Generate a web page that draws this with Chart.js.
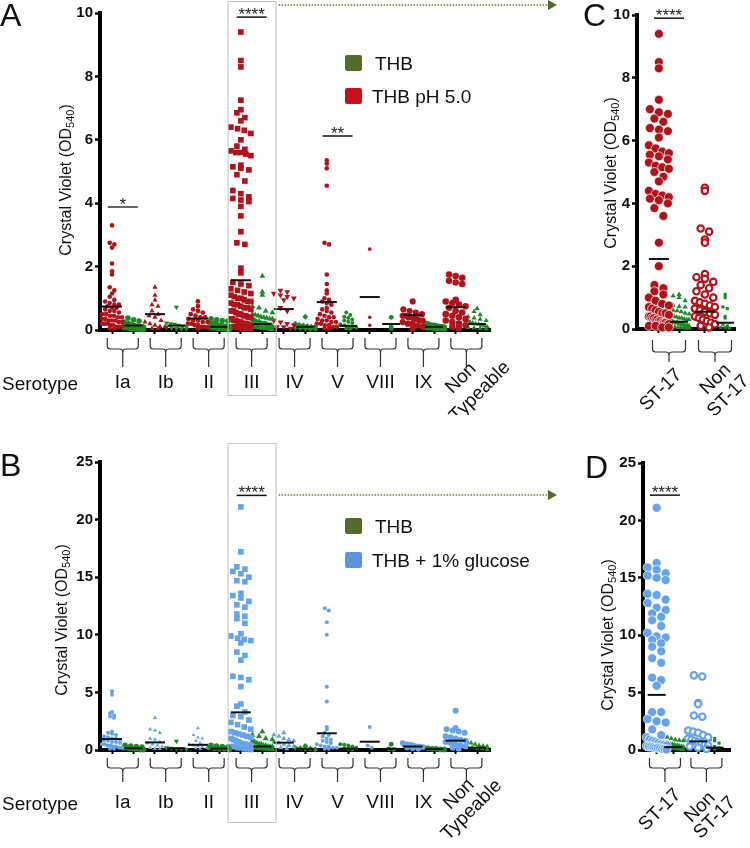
<!DOCTYPE html>
<html>
<head>
<meta charset="utf-8">
<script src="https://cdn.jsdelivr.net/npm/chart.js@4.4.0/dist/chart.umd.min.js"></script>
<style>
body { margin: 0; background: #fff; }
#fig { position: relative; width: 750px; height: 848px; overflow: hidden; font-family: 'Liberation Sans', Arial, sans-serif; color: #111; }
canvas { position: absolute; }
.t { position: absolute; line-height: 1; white-space: nowrap; transform: translateY(-50%); font-size: 19px; }
.ytitle { position: absolute; font-size: 16px; line-height: 1; white-space: nowrap; transform: translate(-50%, -50%) rotate(-90deg); }
.ytitle sub { font-size: 11px; vertical-align: -3px; }
.sw { position: absolute; width: 17px; height: 16px; border-radius: 2px; }
.letter { position: absolute; font-size: 32px; line-height: 1; }
</style>
</head>
<body>
<div id="fig">
  <canvas id="cA" width="560" height="415" style="left:0;top:0"></canvas>
  <canvas id="cC" width="190" height="415" style="left:560px;top:0"></canvas>
  <canvas id="cB" width="560" height="428" style="left:0;top:420px"></canvas>
  <canvas id="cD" width="190" height="428" style="left:560px;top:420px"></canvas>

  <div class="letter" style="left:0;top:-1px">A</div>
  <div class="letter" style="left:583px;top:-1px">C</div>
  <div class="letter" style="left:0;top:449px">B</div>
  <div class="letter" style="left:585px;top:451px">D</div>

  <div class="ytitle" style="left:67px;top:180px">Crystal Violet (OD<sub>540</sub>)</div>
  <div class="ytitle" style="left:612px;top:173px">Crystal Violet (OD<sub>540</sub>)</div>
  <div class="ytitle" style="left:63px;top:620px">Crystal Violet (OD<sub>540</sub>)</div>
  <div class="ytitle" style="left:609px;top:635px">Crystal Violet (OD<sub>540</sub>)</div>

  <div class="t" style="left:2px;top:383px">Serotype</div>
  <div class="t" style="left:2px;top:803px">Serotype</div>

  <div class="sw" style="left:345px;top:55px;background:#546b2c"></div>
  <div class="t" style="left:375px;top:63px">THB</div>
  <div class="sw" style="left:345px;top:88px;background:#c41016"></div>
  <div class="t" style="left:372px;top:96px">THB pH 5.0</div>

  <div class="sw" style="left:345px;top:518px;background:#546b2c"></div>
  <div class="t" style="left:375px;top:526px">THB</div>
  <div class="sw" style="left:345px;top:552px;background:#5a96e0"></div>
  <div class="t" style="left:372px;top:560px">THB + 1% glucose</div>
</div>
<script>
// ---- categories ----
const serotypes = ['Ia', 'Ib', 'II', 'III', 'IV', 'V', 'VIII', 'IX', 'Non Typeable'];
const stGroups = ['ST-17', 'Non ST-17'];

// ---- A: THB pH 5.0 vs THB, by serotype ----
const phA = [
  [3.3, 2.75, 2.7, 2.6, 2.1, 1.85, 1.75, 1.35, 1.25, 1.15, 1.05, 0.95, 0.9, 0.85, 0.8, 0.8, 0.75, 0.7, 0.7, 0.65, 0.6, 0.6, 0.55, 0.5, 0.5, 0.45, 0.45, 0.4, 0.4, 0.35, 0.35, 0.3, 0.3, 0.3, 0.25, 0.25, 0.2, 0.2, 0.2, 0.15, 0.15, 0.1, 0.1, 0.1, 0.05, 0.05],
  [1.35, 1.1, 0.95, 0.8, 0.75, 0.6, 0.5, 0.45, 0.4, 0.3, 0.25, 0.2, 0.15, 0.1, 0.1, 0.05, 0.05],
  [0.9, 0.75, 0.65, 0.6, 0.55, 0.5, 0.45, 0.4, 0.4, 0.35, 0.3, 0.3, 0.25, 0.25, 0.2, 0.2, 0.15, 0.15, 0.1, 0.1, 0.08, 0.05],
  [9.4, 8.5, 8.3, 7.25, 6.95, 6.85, 6.7, 6.6, 6.4, 6.35, 6.3, 6.2, 6.0, 5.8, 5.7, 5.65, 5.6, 5.6, 5.55, 5.5, 5.2, 5.15, 5.1, 5.05, 4.9, 4.7, 4.4, 4.3, 4.2, 4.15, 4.1, 4.05, 3.9, 3.6, 3.1, 2.75, 2.7, 1.95, 1.8, 1.5, 1.45, 1.4, 1.3, 1.25, 1.2, 1.15, 1.1, 1.05, 1.0, 1.0, 0.95, 0.9, 0.9, 0.85, 0.8, 0.8, 0.75, 0.7, 0.7, 0.65, 0.6, 0.6, 0.55, 0.5, 0.5, 0.45, 0.45, 0.4, 0.4, 0.35, 0.35, 0.3, 0.3, 0.3, 0.25, 0.25, 0.25, 0.2, 0.2, 0.2, 0.2, 0.15, 0.15, 0.15, 0.1, 0.1, 0.1, 0.1, 0.05, 0.05, 0.05, 0.05],
  [1.25, 1.2, 1.15, 1.1, 1.05, 1.0, 0.95, 0.7, 0.6, 0.3, 0.25, 0.2, 0.15, 0.1, 0.1, 0.05],
  [5.35, 5.25, 5.1, 4.55, 2.75, 2.7, 1.75, 1.45, 1.25, 1.15, 1.0, 0.95, 0.9, 0.85, 0.8, 0.7, 0.65, 0.6, 0.55, 0.5, 0.45, 0.4, 0.4, 0.35, 0.3, 0.3, 0.25, 0.25, 0.2, 0.2, 0.15, 0.15, 0.1, 0.1, 0.05, 0.05],
  [2.55, 0.4, 0.15],
  [0.9, 0.65, 0.6, 0.55, 0.5, 0.45, 0.45, 0.4, 0.4, 0.35, 0.35, 0.3, 0.3, 0.25, 0.2, 0.2, 0.15, 0.1, 0.05],
  [1.75, 1.7, 1.65, 1.55, 1.5, 1.45, 0.95, 0.9, 0.85, 0.8, 0.75, 0.7, 0.6, 0.55, 0.5, 0.45, 0.4, 0.35, 0.3, 0.25, 0.2, 0.15, 0.1, 0.05]
];
const thbA = [
  [0.38, 0.32, 0.28, 0.25, 0.22, 0.2, 0.2, 0.18, 0.16, 0.15, 0.14, 0.12, 0.12, 0.1, 0.1, 0.1, 0.09, 0.08, 0.08, 0.07, 0.06, 0.05, 0.05, 0.04, 0.04, 0.03, 0.03, 0.02],
  [0.72, 0.22, 0.2, 0.18, 0.15, 0.12, 0.1, 0.08, 0.06, 0.05, 0.04, 0.03],
  [0.35, 0.32, 0.3, 0.28, 0.25, 0.22, 0.2, 0.18, 0.16, 0.15, 0.13, 0.12, 0.1, 0.1, 0.08, 0.07, 0.06, 0.05, 0.04, 0.03, 0.02],
  [1.7, 1.2, 1.1, 0.75, 0.7, 0.6, 0.55, 0.5, 0.48, 0.45, 0.42, 0.4, 0.38, 0.35, 0.35, 0.32, 0.3, 0.3, 0.28, 0.25, 0.25, 0.25, 0.22, 0.2, 0.2, 0.2, 0.2, 0.18, 0.15, 0.15, 0.15, 0.15, 0.12, 0.1, 0.1, 0.1, 0.1, 0.08, 0.08, 0.06, 0.05, 0.05, 0.05, 0.04, 0.03, 0.02],
  [0.42, 0.2, 0.16, 0.14, 0.12, 0.1, 0.1, 0.08, 0.06, 0.05, 0.04, 0.03],
  [0.55, 0.47, 0.42, 0.38, 0.33, 0.3, 0.26, 0.22, 0.18, 0.15, 0.12, 0.1, 0.08, 0.05, 0.04],
  [0.4, 0.1, 0.05],
  [0.22, 0.2, 0.18, 0.16, 0.15, 0.14, 0.12, 0.11, 0.1, 0.09, 0.08, 0.07, 0.06, 0.05, 0.04, 0.03],
  [0.68, 0.58, 0.48, 0.42, 0.38, 0.34, 0.3, 0.28, 0.25, 0.22, 0.2, 0.18, 0.15, 0.13, 0.1, 0.08, 0.06, 0.05, 0.03]
];
const meanPhA = [0.74, 0.5, 0.36, 1.57, 0.66, 0.88, 1.04, 0.47, 0.72];
const meanThbA = [0.14, 0.14, 0.1, 0.19, 0.1, 0.13, 0.19, 0.1, 0.19];

// ---- B: THB + 1% glucose vs THB, by serotype ----
const gluB = [
  [5.1, 4.8, 3.3, 3.2, 3.0, 2.9, 2.8, 1.6, 1.5, 1.4, 1.3, 1.2, 1.1, 1.0, 1.0, 0.9, 0.85, 0.8, 0.7, 0.7, 0.6, 0.5, 0.5, 0.4, 0.4, 0.3, 0.3, 0.2, 0.2, 0.1, 0.1],
  [2.8, 1.8, 1.7, 1.5, 1.0, 0.9, 0.7, 0.6, 0.5, 0.4, 0.3, 0.2, 0.1, 0.1],
  [1.9, 1.3, 1.1, 1.0, 0.8, 0.6, 0.5, 0.4, 0.35, 0.3, 0.2, 0.15, 0.1],
  [21.1, 17.2, 15.9, 15.7, 15.5, 15.3, 15.0, 14.7, 14.6, 13.6, 13.4, 13.2, 12.9, 12.6, 12.4, 11.8, 11.6, 11.4, 11.0, 10.1, 9.9, 9.7, 9.6, 9.5, 9.3, 8.5, 8.2, 7.8, 6.4, 6.3, 6.1, 5.5, 4.0, 3.8, 3.3, 3.0, 2.9, 2.6, 2.4, 2.2, 2.0, 1.8, 1.6, 1.5, 1.4, 1.3, 1.2, 1.1, 1.0, 0.9, 0.8, 0.7, 0.6, 0.5, 0.5, 0.4, 0.4, 0.3, 0.3, 0.2, 0.2, 0.1, 0.1, 0.05],
  [1.5, 1.3, 1.2, 1.0, 0.9, 0.8, 0.7, 0.6, 0.5, 0.4, 0.3, 0.2, 0.1],
  [12.3, 12.1, 11.1, 10.0, 5.5, 4.2, 2.0, 1.8, 1.5, 1.3, 1.2, 1.0, 0.9, 0.8, 0.7, 0.6, 0.5, 0.4, 0.3, 0.3, 0.2, 0.2, 0.1, 0.1],
  [2.0, 0.4, 0.2],
  [0.6, 0.5, 0.5, 0.45, 0.4, 0.35, 0.3, 0.3, 0.25, 0.2, 0.15, 0.1],
  [3.4, 1.9, 1.8, 1.7, 1.6, 1.5, 1.2, 1.1, 1.0, 0.9, 0.8, 0.7, 0.6, 0.5, 0.4, 0.3, 0.2, 0.1]
];
const thbB = [
  [0.4, 0.35, 0.3, 0.25, 0.2, 0.2, 0.15, 0.15, 0.1, 0.1, 0.05, 0.05],
  [0.75, 0.2, 0.15, 0.1, 0.1, 0.05],
  [0.4, 0.35, 0.3, 0.25, 0.2, 0.15, 0.1, 0.1, 0.05],
  [1.6, 1.3, 1.2, 1.0, 0.9, 0.8, 0.7, 0.6, 0.5, 0.5, 0.4, 0.4, 0.3, 0.3, 0.3, 0.2, 0.2, 0.2, 0.15, 0.1, 0.1, 0.1, 0.05, 0.05],
  [0.35, 0.2, 0.15, 0.1, 0.1, 0.05],
  [0.5, 0.45, 0.4, 0.3, 0.2, 0.15, 0.1, 0.05],
  [0.5, 0.1, 0.05],
  [0.2, 0.15, 0.1, 0.1, 0.05, 0.05],
  [0.7, 0.6, 0.5, 0.4, 0.35, 0.3, 0.25, 0.2, 0.15, 0.1, 0.05]
];
const meanGluB = [0.95, 0.66, 0.45, 3.27, 0.64, 1.45, 0.72, 0.3, 0.81];
const meanThbB = [0.15, 0.15, 0.12, 0.3, 0.1, 0.12, 0.1, 0.08, 0.2];

// ---- C: THB pH 5.0 vs THB, ST-17 / non ST-17 ----
const phC = [
  [9.4, 8.5, 8.3, 7.3, 7.0, 6.9, 6.85, 6.7, 6.6, 6.4, 6.35, 6.3, 6.1, 5.85, 5.75, 5.65, 5.6, 5.55, 5.5, 5.4, 5.3, 5.2, 5.15, 5.1, 5.0, 4.85, 4.7, 4.4, 4.3, 4.25, 4.2, 4.15, 4.1, 4.0, 3.85, 3.6, 2.75, 2.0, 1.4, 1.3, 1.2, 1.1, 1.0, 0.9, 0.8, 0.75, 0.7, 0.65, 0.6, 0.55, 0.5, 0.5, 0.45, 0.4, 0.4, 0.35, 0.35, 0.3, 0.3, 0.25, 0.25, 0.2, 0.2, 0.2, 0.15, 0.15, 0.1, 0.1, 0.05, 0.05],
  [4.5, 4.4, 3.2, 3.1, 2.85, 2.75, 1.75, 1.65, 1.6, 1.5, 1.4, 1.3, 1.2, 1.1, 1.0, 0.9, 0.85, 0.8, 0.75, 0.7, 0.65, 0.6, 0.55, 0.5, 0.45, 0.4, 0.35, 0.3, 0.25, 0.2, 0.15, 0.1, 0.05]
];
const thbC = [
  [1.1, 1.05, 1.0, 0.9, 0.75, 0.72, 0.7, 0.65, 0.6, 0.58, 0.55, 0.5, 0.48, 0.45, 0.42, 0.4, 0.38, 0.35, 0.35, 0.32, 0.3, 0.3, 0.28, 0.25, 0.25, 0.22, 0.2, 0.2, 0.2, 0.18, 0.15, 0.15, 0.15, 0.12, 0.1, 0.1, 0.1, 0.08, 0.08, 0.06, 0.05, 0.05, 0.04, 0.03, 0.02],
  [1.1, 1.0, 0.7, 0.65, 0.4, 0.35, 0.15, 0.1, 0.05, 0.05, 0.03]
];
const meanPhC = [2.23, 0.55];
const meanThbC = [0.23, 0.2];

// ---- D: THB + 1% glucose vs THB, ST-17 / non ST-17 ----
const gluD = [
  [21.1, 16.3, 15.9, 15.7, 15.4, 15.2, 15.0, 14.8, 13.6, 13.5, 13.1, 12.8, 12.4, 12.2, 11.9, 11.6, 11.3, 10.8, 10.2, 9.9, 9.8, 9.6, 9.3, 9.0, 8.6, 8.0, 7.6, 6.3, 6.1, 5.6, 3.3, 3.3, 2.7, 2.5, 2.4, 1.8, 1.3, 1.1, 0.9, 0.8, 0.7, 0.6, 0.5, 0.45, 0.4, 0.35, 0.3, 0.3, 0.25, 0.2, 0.2, 0.15, 0.1, 0.1, 0.05],
  [6.5, 6.4, 4.1, 4.0, 3.0, 2.9, 1.7, 1.6, 1.5, 1.3, 1.1, 1.0, 0.9, 0.8, 0.7, 0.6, 0.5, 0.4, 0.3, 0.2, 0.1]
];
const thbD = [
  [1.2, 1.1, 1.0, 0.9, 0.85, 0.8, 0.7, 0.65, 0.6, 0.55, 0.5, 0.5, 0.45, 0.4, 0.4, 0.35, 0.3, 0.3, 0.25, 0.25, 0.2, 0.2, 0.2, 0.15, 0.15, 0.1, 0.1, 0.1, 0.05, 0.05],
  [1.0, 0.9, 0.8, 0.6, 0.4, 0.3, 0.2, 0.1]
];
const meanGluD = [4.8, 0.75];
const meanThbD = [0.25, 0.2];

// ---- marker styles ----
const GREEN = '#1e8b26', RED = '#b0131b', BLUE = '#66a3eb';
const styleThb = [{s:'circle',r:2.8},{s:'triangle',r:3,rot:180},{s:'circle',r:2.8},{s:'triangle',r:3.4},{s:'rectRot',r:3},{s:'circle',r:2},{s:'circle',r:2.4},{s:'circle',r:2.8},{s:'triangle',r:3}];
const stylePh = [{s:'circle',r:2.3},{s:'triangle',r:3},{s:'circle',r:2.4},{s:'rect',r:4},{s:'triangle',r:3.4,rot:180},{s:'circle',r:2.3},{s:'circle',r:1.8},{s:'circle',r:3.1},{s:'circle',r:3.3}];
const styleGlu = [{s:'circle',r:2},{s:'triangle',r:2.4},{s:'triangle',r:2.2},{s:'rect',r:4},{s:'triangle',r:3},{s:'circle',r:2},{s:'circle',r:2},{s:'circle',r:2.8},{s:'circle',r:3}];
const styleStTreated = [{s:'circle',r:4.5,edge:'#fff'},{s:'circle',r:3.2,ring:true}];
const styleStThb = [{s:'triangle',r:3},{s:'rect',r:2.2}];

// beeswarm spread: points sharing a row are spread sideways around the column centre
function swarm(vals, cx, r, maxHalf, pxX, pxY) {
  const d = 2 * r;
  const rows = new Map();
  vals.forEach(v => {
    const k = Math.round(v * pxY / d);
    if (!rows.has(k)) rows.set(k, []);
    rows.get(k).push(v);
  });
  const pts = [];
  rows.forEach(row => {
    const n = row.length;
    const step = n > 1 ? Math.min(d, 2 * maxHalf / (n - 1)) : 0;
    row.forEach((v, j) => pts.push({ x: cx + (j - (n - 1) / 2) * step / pxX, y: v }));
  });
  return pts;
}

const annot = {
  id: 'annot',
  afterDraw(chart, args, o) {
    const ctx = chart.ctx, xs = chart.scales.x, ys = chart.scales.y, ca = chart.chartArea;
    ctx.save();
    // grey box + dotted arrow
    if (o.box) {
      const xc = xs.getPixelForValue(o.box.g);
      ctx.strokeStyle = '#c4c4c4'; ctx.lineWidth = 1;
      ctx.strokeRect(xc - o.box.hw + 0.5, o.box.top + 0.5, o.box.hw * 2, o.box.bottom - o.box.top);
      ctx.strokeStyle = '#6b7a3a'; ctx.lineWidth = 1.5; ctx.setLineDash([1.5, 1.5]);
      ctx.beginPath(); ctx.moveTo(xc + o.box.hw + 3, o.arrowY); ctx.lineTo(o.arrowX - 8, o.arrowY); ctx.stroke();
      ctx.setLineDash([]);
      ctx.fillStyle = '#556b2f';
      ctx.beginPath(); ctx.moveTo(o.arrowX - 9, o.arrowY - 5); ctx.lineTo(o.arrowX, o.arrowY); ctx.lineTo(o.arrowX - 9, o.arrowY + 5); ctx.closePath(); ctx.fill();
    }
    // brackets under each group
    ctx.strokeStyle = '#333'; ctx.lineWidth = 1.2;
    o.labels.forEach((lab, i) => {
      const xc = xs.getPixelForValue(i), hw = o.hw;
      const top = ca.bottom + o.br[0], mid = ca.bottom + o.br[1], bot = ca.bottom + o.br[2];
      ctx.beginPath();
      ctx.moveTo(xc - hw, top); ctx.lineTo(xc - hw, mid - 3);
      ctx.quadraticCurveTo(xc - hw, mid, xc - hw + 3, mid); ctx.lineTo(xc - 3, mid);
      ctx.quadraticCurveTo(xc, mid, xc, mid + 3); ctx.lineTo(xc, bot);
      ctx.moveTo(xc + hw, top); ctx.lineTo(xc + hw, mid - 3);
      ctx.quadraticCurveTo(xc + hw, mid, xc + hw - 3, mid); ctx.lineTo(xc + 3, mid);
      ctx.quadraticCurveTo(xc, mid, xc, mid + 3);
      ctx.stroke();
    });
    // category labels
    ctx.fillStyle = '#111'; ctx.font = '19px "Liberation Sans", Arial, sans-serif';
    o.labels.forEach((lab, i) => {
      const xc = xs.getPixelForValue(i);
      const rot = o.rot[i];
      if (!rot) {
        ctx.textAlign = 'center'; ctx.textBaseline = 'middle';
        ctx.fillText(lab, xc, ca.bottom + o.labelDy);
      } else {
        ctx.save();
        ctx.translate(xc + rot[0], ca.bottom + rot[1]);
        ctx.rotate(-Math.PI / 4);
        ctx.textAlign = 'right'; ctx.textBaseline = 'middle';
        lab.split(' ').forEach((ln, k) => ctx.fillText(ln, k * rot[2], k * rot[3]));
        ctx.restore();
      }
    });
    // significance bars
    o.sig.forEach(s => {
      const xc = xs.getPixelForValue(s.g), y = ys.getPixelForValue(s.y);
      ctx.strokeStyle = s.color || '#111'; ctx.lineWidth = s.w || 1.5;
      ctx.beginPath(); ctx.moveTo(xc - 15, y); ctx.lineTo(xc + 15, y); ctx.stroke();
      ctx.fillStyle = '#222'; ctx.font = '17px "Liberation Sans", Arial, sans-serif';
      ctx.textAlign = 'center'; ctx.textBaseline = 'alphabetic';
      ctx.fillText(s.text, xc, y + 3);
    });
    ctx.restore();
  }
};

function panel(id, p) {
  const pxX = p.areaW / (p.xMax - p.xMin);
  const pxY = p.areaH / p.yMax;
  const datasets = [];
  p.labels.forEach((lab, i) => {
    const cols = [
      { vals: p.treated[i], st: p.treatedStyle[i], color: p.color, cx: i - p.off, mean: p.treatedMean[i], mw: p.meanW[0] },
      { vals: p.thb[i], st: p.thbStyle[i], color: GREEN, cx: i + p.off, mean: p.thbMean[i], mw: p.meanW[1] }
    ];
    cols.forEach(c => {
      const ring = !!c.st.ring;
      datasets.push({
        data: swarm(c.vals, c.cx, c.st.r + (ring ? 1 : 0), p.maxHalf, pxX, pxY),
        pointStyle: c.st.s, pointRadius: c.st.r, pointRotation: c.st.rot || 0,
        pointBackgroundColor: ring ? '#fff' : c.color,
        pointBorderColor: c.st.edge || c.color,
        pointBorderWidth: ring ? 2.2 : (c.st.edge ? 0.7 : 0),
        order: 2, clip: false
      });
      datasets.push({
        data: [{ x: c.cx, y: c.mean }],
        pointStyle: 'line', pointRadius: c.mw, pointBorderColor: '#111', pointBorderWidth: 2,
        order: 1, clip: false
      });
    });
  });
  const tickPos = [];
  p.labels.forEach((lab, i) => tickPos.push(i - p.off, i + p.off));
  return new Chart(document.getElementById(id), {
    type: 'scatter',
    data: { datasets },
    plugins: [annot],
    options: {
      responsive: false, animation: false, events: [],
      layout: { padding: p.pad },
      plugins: { legend: { display: false }, tooltip: { enabled: false }, annot: p.annot },
      scales: {
        x: {
          type: 'linear', min: p.xMin, max: p.xMax,
          afterFit: s => { s.height = 10; },
          afterBuildTicks: s => { s.ticks = tickPos.map(v => ({ value: v })); },
          ticks: { display: false },
          grid: { drawOnChartArea: false, drawTicks: true, tickLength: 4, tickWidth: 2, color: '#000' },
          border: { display: true, width: 4, color: '#000' }
        },
        y: {
          min: 0, max: p.yMax,
          afterFit: s => { s.width = 45; },
          ticks: { stepSize: p.step, font: { family: '"Liberation Sans", Arial, sans-serif', size: 15, weight: 'bold' }, color: '#111', padding: 2 },
          grid: { drawOnChartArea: false, tickLength: 5, tickWidth: 2.5, color: '#000' },
          border: { width: 4, color: '#000' }
        }
      }
    }
  });
}

panel('cA', {
  labels: serotypes, treated: phA, thb: thbA, treatedMean: meanPhA, thbMean: meanThbA,
  treatedStyle: stylePh, thbStyle: styleThb, color: RED,
  xMin: -0.53, xMax: 8.55, yMax: 10, step: 2, areaW: 390, areaH: 317,
  off: 0.25, maxHalf: 10, meanW: [10, 9],
  pad: { left: 55, right: 70, top: 13, bottom: 75 },
  annot: {
    labels: serotypes, rot: [null, null, null, null, null, null, null, null, [7, 36, 25, 23]], hw: 15.5, br: [8, 19, 37], labelDy: 53,
    box: { g: 3, hw: 24, top: 1, bottom: 395 }, arrowX: 557, arrowY: 5,
    sig: [{ g: 0, y: 3.88, text: '*', color: '#666', w: 2 }, { g: 3, y: 9.87, text: '****' }, { g: 5, y: 6.12, text: '**' }]
  }
});

panel('cB', {
  labels: serotypes, treated: gluB, thb: thbB, treatedMean: meanGluB, thbMean: meanThbB,
  treatedStyle: styleGlu, thbStyle: styleThb, color: BLUE,
  xMin: -0.53, xMax: 8.55, yMax: 25, step: 5, areaW: 390, areaH: 288,
  off: 0.25, maxHalf: 10, meanW: [10, 9],
  pad: { left: 55, right: 70, top: 42, bottom: 88 },
  annot: {
    labels: serotypes, rot: [null, null, null, null, null, null, null, null, [5, 32, 19, 20]], hw: 15.5, br: [8, 18, 32], labelDy: 53,
    box: { g: 3, hw: 24, top: 23, bottom: 402 }, arrowX: 557, arrowY: 75,
    sig: [{ g: 3, y: 22.1, text: '****' }]
  }
});

panel('cC', {
  labels: stGroups, treated: phC, thb: thbC, treatedMean: meanPhC, thbMean: meanThbC,
  treatedStyle: styleStTreated, thbStyle: styleStThb, color: RED,
  xMin: -0.696, xMax: 1.435, yMax: 10, step: 2, areaW: 98, areaH: 314,
  off: 0.22, maxHalf: 10, meanW: [10, 9],
  pad: { left: 32, right: 15, top: 15, bottom: 76 },
  annot: {
    labels: stGroups, rot: [[10, 43, 0, 0], [13, 38, 5, 21]], hw: 16.5, br: [11, 23, 33], labelDy: 53,
    sig: [{ g: 0, y: 9.9, text: '****' }]
  }
});

panel('cD', {
  labels: stGroups, treated: gluD, thb: thbD, treatedMean: meanGluD, thbMean: meanThbD,
  treatedStyle: styleStTreated, thbStyle: styleStThb, color: BLUE,
  xMin: -0.53, xMax: 1.57, yMax: 25, step: 5, areaW: 87, areaH: 287,
  off: 0.2, maxHalf: 10, meanW: [9, 9],
  pad: { left: 38, right: 20, top: 43, bottom: 88 },
  annot: {
    labels: stGroups, rot: [[13, 42, 0, 0], [6, 45, 11, 18]], hw: 15.5, br: [8, 18, 32], labelDy: 53,
    sig: [{ g: 0, y: 22.2, text: '****' }]
  }
});
</script>
</body>
</html>
